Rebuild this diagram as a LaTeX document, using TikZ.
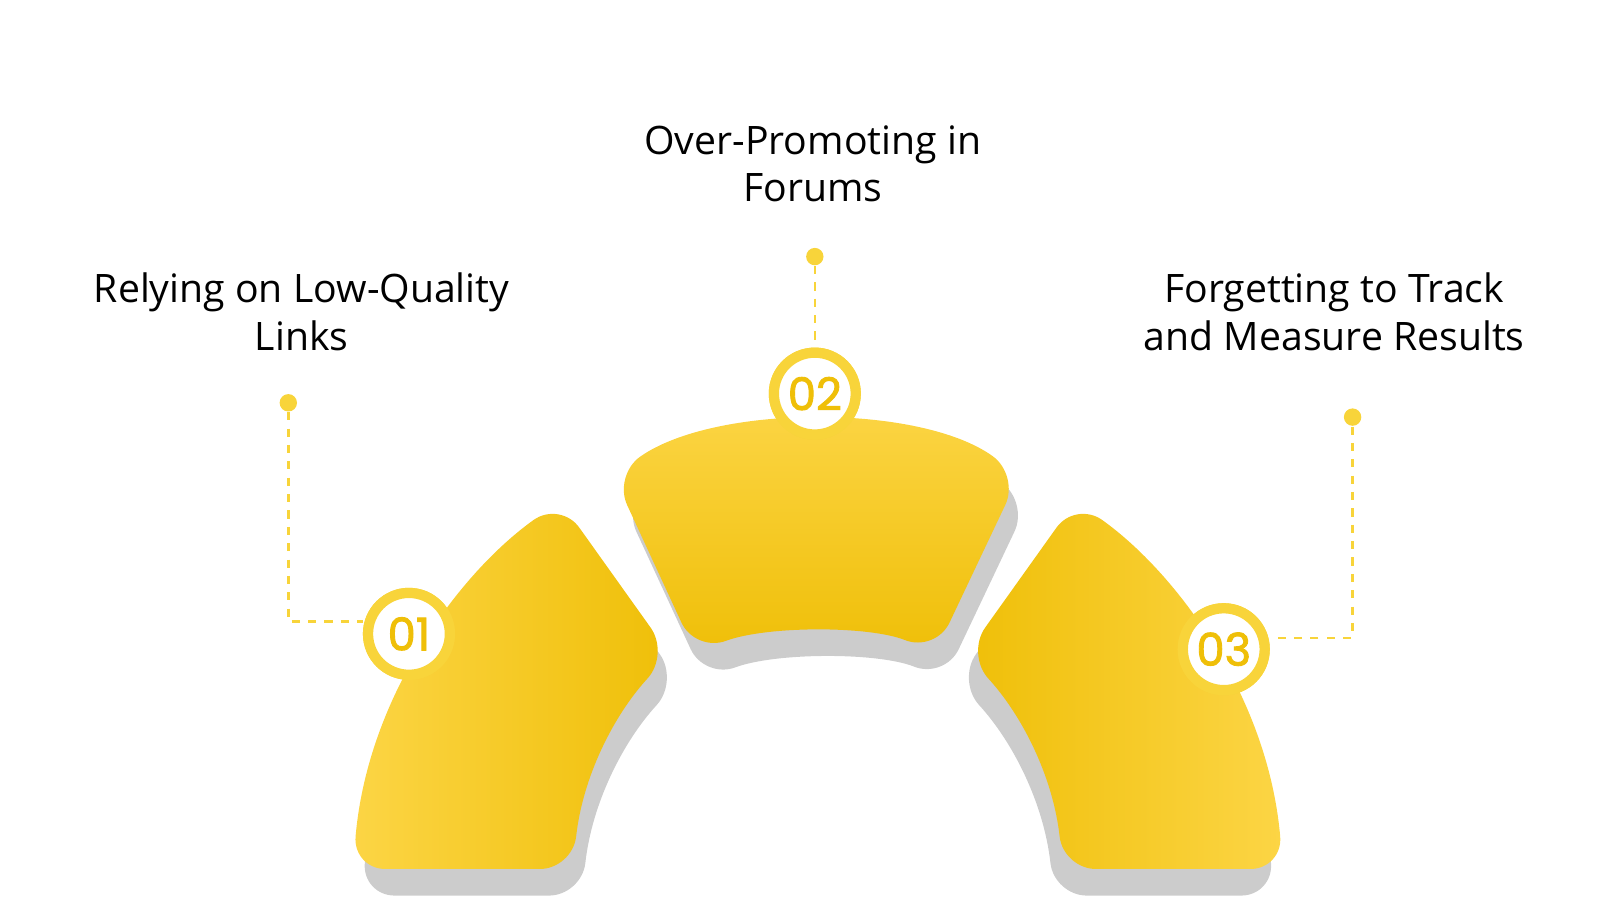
\documentclass[tikz,border=0pt]{standalone}
\usepackage{fontspec}
\setmainfont{Open Sans}
\newfontfamily\numfont[FakeBold=2]{Poppins}
\definecolor{yA}{HTML}{FCD545}
\definecolor{yB}{HTML}{EFBF08}
\definecolor{yL}{HTML}{F8D43A}
\definecolor{shd}{HTML}{CCCCCC}
\tikzset{
 seg/.style={rounded corners=0.32cm, shading=axis, shading angle=#1, left color=yA, right color=yB},
 shadowseg/.style={rounded corners=0.32cm, fill=shd},
 numc/.style={circle, draw=yL, line width=0.1cm, fill=white, minimum size=0.8cm, inner sep=0pt, font=\numfont\fontsize{12.5}{12.5}\selectfont, text=yB},
 dotn/.style={circle, fill=yL, minimum size=0.17cm, inner sep=0pt},
 lead/.style={draw=yL, line width=0.025cm, dash pattern=on 0.08cm off 0.08cm},
 lab/.style={align=center, font=\fontsize{10.9}{13.2}\selectfont, text=black}
}
\begin{document}
\begin{tikzpicture}[x=0.01cm,y=-0.01cm]
\useasboundingbox (0,0) rectangle (1565,880);
% shadows
\begin{scope}[shift={(9,26)}]
\path[shadowseg] (345,850) .. controls (360,680) and (450,560) .. (548,490) -- (655,640) .. controls (600,700) and (570,760) .. (560,850) -- cycle;
\path[shadowseg] (600,465) .. controls (700,395) and (900,395) .. (997,465) -- (915,638) .. controls (850,612) and (750,612) .. (680,638) -- cycle;
\end{scope}
\begin{scope}[shift={(-9,26)}]
\path[shadowseg] (1255,850) .. controls (1240,680) and (1150,560) .. (1052,490) -- (945,640) .. controls (1000,700) and (1030,760) .. (1040,850) -- cycle;
\end{scope}
% segments
\path[seg=135] (345,850) .. controls (360,680) and (450,560) .. (548,490) -- (655,640) .. controls (600,700) and (570,760) .. (560,850) -- cycle;
\path[seg=0,top color=yA,bottom color=yB] (600,465) .. controls (700,395) and (900,395) .. (997,465) -- (915,638) .. controls (850,612) and (750,612) .. (680,638) -- cycle;
\path[seg=45,left color=yB,right color=yA] (1255,850) .. controls (1240,680) and (1150,560) .. (1052,490) -- (945,640) .. controls (1000,700) and (1030,760) .. (1040,850) -- cycle;
% dots and leaders
\node[dotn] (d1) at (282,394) {};
\node[dotn] (d2) at (797,251) {};
\node[dotn] (d3) at (1323,408) {};
\coordinate (k1) at (282,608);
\coordinate (k3) at (1323,624);
\node[numc] (n1) at (400,620) {01};
\node[numc] (n2) at (797,385) {02};
\node[numc] (n3) at (1197,635) {03};
\draw[lead] (d1) -- (k1) -- (n1.west |- k1);
\draw[lead] (d2) -- (n2);
\draw[lead] (d3) -- (k3) -- (n3.east |- k3);
\node[numc] at (400,620) {01};
\node[numc] at (797,385) {02};
\node[numc] at (1197,635) {03};
% labels
\node[lab] (l1) at (295,305) {Relying on Low-Quality\\Links};
\node[lab] (l2) at (795,160) {Over-Promoting in\\Forums};
\node[lab] (l3) at (1305,305) {Forgetting to Track\\and Measure Results};
\end{tikzpicture}
\end{document}
